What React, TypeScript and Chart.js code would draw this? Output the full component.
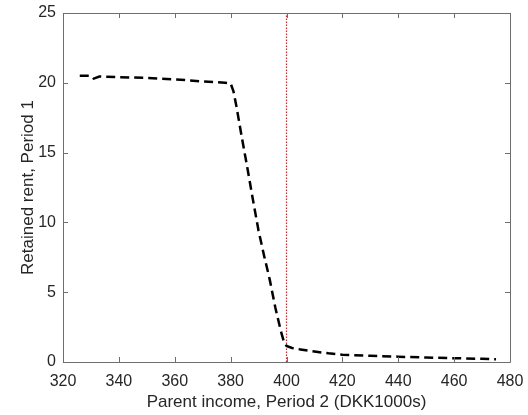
import React, { useEffect, useRef } from "react";
import { Chart, registerables } from "chart.js";

Chart.register(...registerables);

const incomeX: number[] = [326, 330, 331, 333, 340, 350, 360, 370, 378, 380, 381, 382, 384, 386, 388, 390, 392, 394, 396, 398, 399, 400, 402, 405, 410, 415, 420, 430, 440, 450, 460, 470, 475];
const rentY: number[] = [20.5, 20.5, 20.3, 20.45, 20.4, 20.35, 20.25, 20.1, 20.0, 19.95, 19.4, 18.4, 16.1, 13.9, 11.6, 9.4, 7.6, 5.9, 3.9, 2.2, 1.5, 1.15, 1.0, 0.9, 0.75, 0.62, 0.52, 0.45, 0.38, 0.32, 0.27, 0.23, 0.2];
const thresholdX = 400;
const xTicks: number[] = [320, 340, 360, 380, 400, 420, 440, 460, 480];
const yTicks: number[] = [0, 5, 10, 15, 20, 25];
const xTitle = "Parent income, Period 2 (DKK1000s)";
const yTitle = "Retained rent, Period 1";

const boxPlugin = {
  id: "boxTicks",
  afterDraw(chart: any) {
    const { ctx, chartArea, scales } = chart;
    const { left, right, top, bottom } = chartArea;
    ctx.save();
    ctx.strokeStyle = "#6e6e6e";
    ctx.lineWidth = 1;
    ctx.beginPath();
    ctx.rect(Math.round(left) + 0.5, Math.round(top) + 0.5, Math.round(right - left), Math.round(bottom - top));
    ctx.stroke();
    const len = 5;
    ctx.beginPath();
    for (const v of xTicks) {
      const px = Math.round(scales.x.getPixelForValue(v)) + 0.5;
      ctx.moveTo(px, bottom);
      ctx.lineTo(px, bottom - len);
      ctx.moveTo(px, top);
      ctx.lineTo(px, top + len);
    }
    for (const v of yTicks) {
      const py = Math.round(scales.y.getPixelForValue(v)) + 0.5;
      ctx.moveTo(left, py);
      ctx.lineTo(left + len, py);
      ctx.moveTo(right, py);
      ctx.lineTo(right - len, py);
    }
    ctx.stroke();
    ctx.restore();
  },
};

export default function App() {
  const ref = useRef<HTMLCanvasElement>(null);
  useEffect(() => {
    document.body.style.margin = "0";
    const font = "'Liberation Sans', Arial, sans-serif";
    const chart = new Chart(ref.current!, {
      type: "line",
      data: {
        datasets: [
          {
            data: incomeX.map((x, i) => ({ x, y: rentY[i] })),
            borderColor: "#000000",
            borderWidth: 2.5,
            borderDash: [9, 5],
            pointRadius: 0,
            fill: false,
            tension: 0,
          },
          {
            data: [
              { x: thresholdX, y: 0 },
              { x: thresholdX, y: 25 },
            ],
            borderColor: "#c0282d",
            borderWidth: 1.2,
            borderDash: [1.5, 1.5],
            pointRadius: 0,
            fill: false,
          },
        ],
      },
      options: {
        responsive: false,
        animation: false,
        layout: { padding: { top: 13, right: 18, left: 0, bottom: 0 } },
        plugins: { legend: { display: false }, tooltip: { enabled: false } },
        scales: {
          x: {
            type: "linear",
            min: 320,
            max: 480,
            afterBuildTicks: (s: any) => {
              s.ticks = xTicks.map((v) => ({ value: v }));
            },
            afterFit: (s: any) => {
              s.height = 53;
              s.paddingLeft = 0;
              s.paddingRight = 0;
            },
            grid: { display: false, drawTicks: false },
            border: { display: false },
            ticks: { color: "#262626", font: { family: font, size: 16 }, padding: 10, maxRotation: 0 },
            title: { display: true, text: xTitle, color: "#262626", font: { family: font, size: 17 }, padding: { top: 2, bottom: 2 } },
          },
          y: {
            type: "linear",
            min: 0,
            max: 25,
            afterBuildTicks: (s: any) => {
              s.ticks = yTicks.map((v) => ({ value: v }));
            },
            afterFit: (s: any) => {
              s.width = 63;
              s.paddingTop = 0;
              s.paddingBottom = 0;
            },
            grid: { display: false, drawTicks: false },
            border: { display: false },
            ticks: { color: "#262626", font: { family: font, size: 16 }, padding: 7 },
            title: { display: true, text: yTitle, color: "#262626", font: { family: font, size: 17 }, padding: { top: 18, bottom: 4 } },
          },
        },
      },
      plugins: [boxPlugin],
    });
    return () => chart.destroy();
  }, []);
  return (
    <div style={{ position: "absolute", left: 0, top: 0, width: 528, height: 415, background: "#fff" }}>
      <canvas ref={ref} width={528} height={415} />
    </div>
  );
}
